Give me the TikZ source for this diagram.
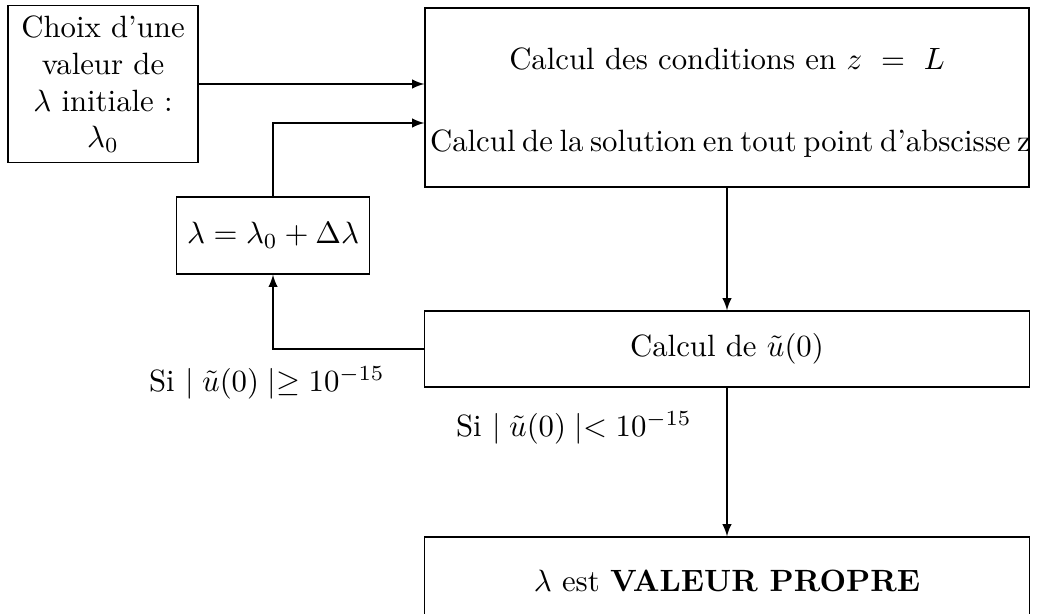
\documentclass[tikz,border=0pt]{standalone}
\usepackage{amsmath}
\begin{document}
\begin{tikzpicture}[
    boite/.style={draw, align=center},
    fleche/.style={-latex}
  ]
            \def \xgauche   {1.176}
            \def \xboucle   {3.117}
            \def \xdroite   {8.300}

            \def \ychoix    {-0.959}
            \def \ycalcul   {-1.113}
            \def \yincr     {-2.689}
            \def \ytest     {-3.985}
            \def \ypropre   {-6.631}
            \def \ysup      {-4.373} % Si >=
            \def \yinf      {-4.886} % Si <

            \useasboundingbox (0,0) rectangle (11.908,-7.010);
% boites
            \node [boite, minimum width=2.169cm, minimum height=1.735cm] (choix) at (\xgauche, \ychoix)
                {Choix d'une\\valeur de\\$\lambda$ initiale :\\$\lambda_0$};
            \node [boite, text width=6.66cm, minimum height=2.044cm] (calcul) at (\xdroite, \ycalcul)
                {\rule{0pt}{10.5pt}Calcul des conditions en $z=L$\\[14.5pt]%
                 \hbox to 6.8cm{\spaceskip=3.33pt plus 1pt minus 2pt\hskip-0.06cm Calcul de la solution en tout point d'abscisse z}};
            \node [boite, minimum width=2.169cm, minimum height=0.879cm] (increment) at (\xboucle, \yincr)
                {$\lambda = \lambda_0 + \Delta\lambda$};
            \node [boite, minimum width=6.907cm, minimum height=0.868cm] (test) at (\xdroite, \ytest)
                {Calcul de $\tilde{u}(0)$};
            \node [boite, minimum width=6.907cm, minimum height=1cm] (propre) at (\xdroite, \ypropre)
                {$\lambda$ est \textbf{VALEUR PROPRE}};
% conditions
            \node (sup) at (3.048, \ysup) {Si $\mid \tilde{u}(0) \mid \geq 10^{-15}$};
            \node (inf) at (6.553, \yinf) {Si $\mid \tilde{u}(0) \mid < 10^{-15}$};
% fleches
            \coordinate (entree) at ([yshift=-0.291cm]calcul.west);
            \draw [fleche] (choix.east) -- (choix.east -| calcul.west);
            \draw [fleche] (increment.north) |- (entree);
            \draw [fleche] (calcul.south) -- (calcul.south |- test.north);
            \draw [fleche] (test.west) -| (increment.south);
            \draw [fleche] (test.south) -- (propre.north);
\end{tikzpicture}
\end{document}
